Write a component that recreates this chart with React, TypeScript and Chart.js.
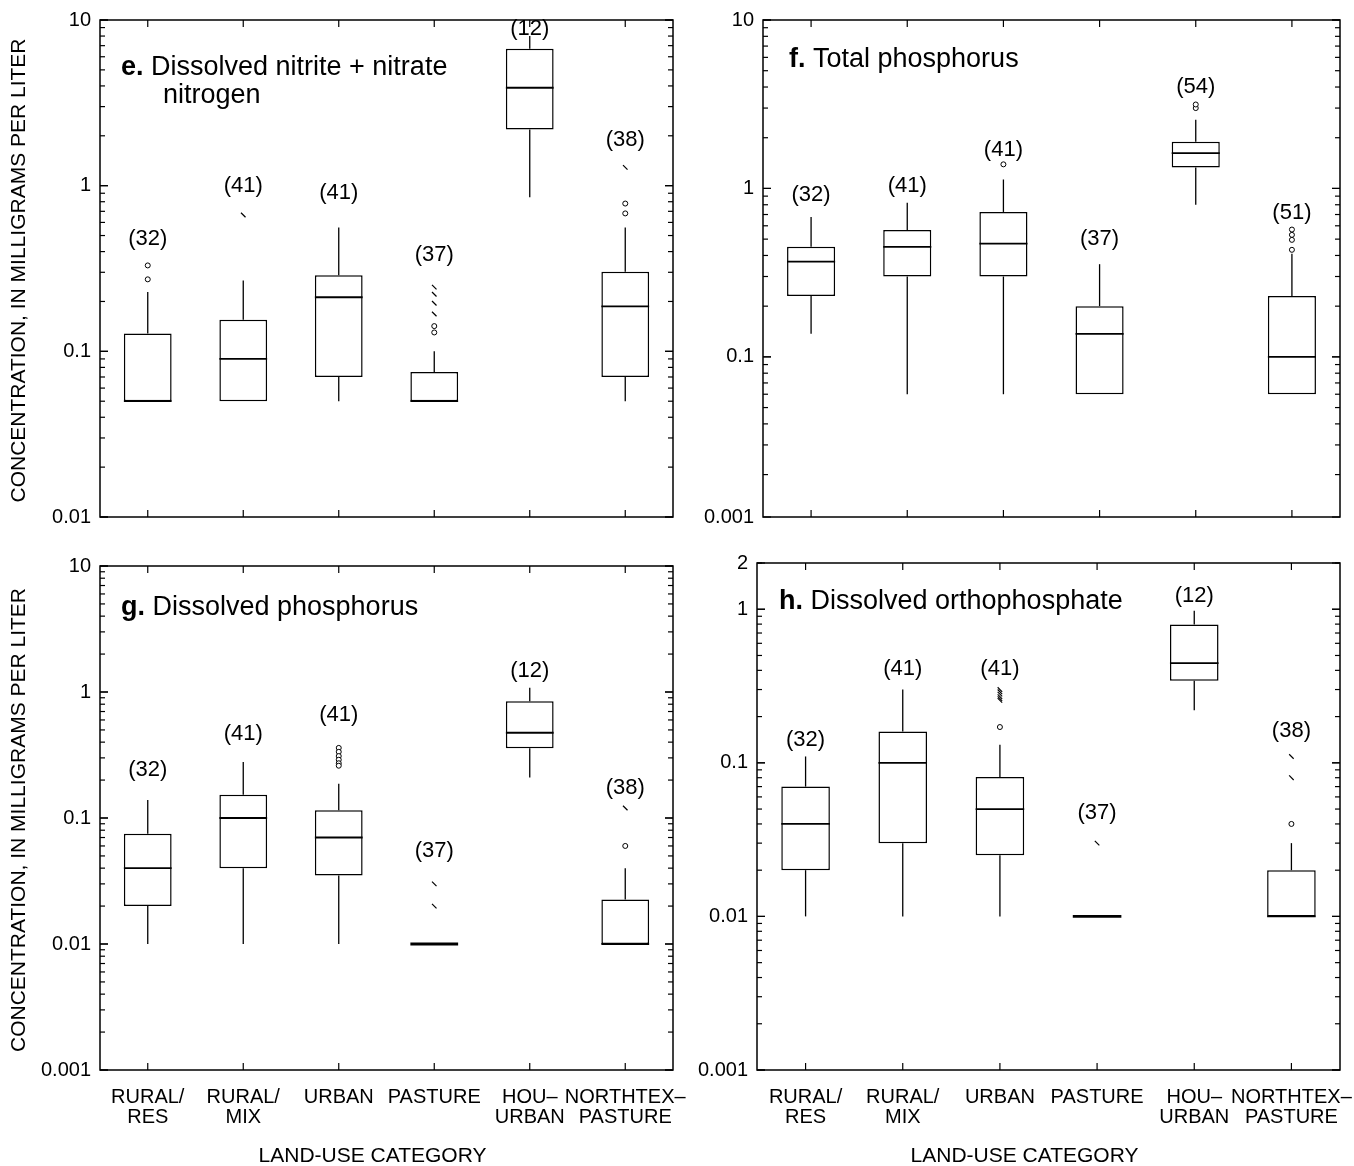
import React, { useEffect, useRef } from "react";
import { Chart, registerables } from "chart.js";

Chart.register(...registerables);

const FONT = "'Liberation Sans', Arial, Helvetica, sans-serif";

const CATEGORIES: any[] = [
  ["RURAL/", "RES"],
  ["RURAL/", "MIX"],
  "URBAN",
  "PASTURE",
  ["HOU–", "URBAN"],
  ["NORTHTEX–", "PASTURE"],
];

const Y_TITLE = "CONCENTRATION, IN MILLIGRAMS PER LITER";
const X_TITLE = "LAND-USE CATEGORY";

// ---------- Panel e: Dissolved nitrite + nitrate nitrogen ----------
const E_COUNTS = [32, 41, 41, 37, 12, 38];
const E_MIN = [0.05, 0.05, 0.05, 0.05, 0.85, 0.05];
const E_Q1 = [0.05, 0.05, 0.07, 0.05, 2.18, 0.07];
const E_MED = [0.05, 0.09, 0.212, 0.05, 3.9, 0.187];
const E_Q3 = [0.128, 0.155, 0.288, 0.075, 6.7, 0.302];
const E_MAX = [0.228, 0.268, 0.56, 0.1, 8.0, 0.56];
const E_CIRCLES = [[0.33, 0.272], [], [], [0.142, 0.13], [], [0.78, 0.68]];
const E_MARKS = [[], [0.665], [], [0.244, 0.221, 0.195, 0.168], [], [1.29]];
const E_COUNT_AT = [0.48, 1.0, 0.9, 0.38, 8.8, 1.9];
const E_TICK_VALUES = [0.01, 0.1, 1, 10];
const E_TICK_LABELS = ["0.01", "0.1", "1", "10"];

// ---------- Panel f: Total phosphorus ----------
const F_COUNTS = [32, 41, 41, 37, 54, 51];
const F_MIN = [0.137, 0.06, 0.06, 0.06, 0.8, 0.06];
const F_Q1 = [0.23, 0.3, 0.3, 0.06, 1.33, 0.06];
const F_MED = [0.368, 0.45, 0.47, 0.137, 1.62, 0.1];
const F_Q3 = [0.45, 0.567, 0.725, 0.2, 1.89, 0.23];
const F_MAX = [0.676, 0.823, 1.13, 0.355, 2.56, 0.41];
const F_CIRCLES = [[], [], [1.39], [], [3.0, 3.15], [0.57, 0.53, 0.495, 0.432]];
const F_MARKS = [[], [], [], [], [], []];
const F_COUNT_AT = [0.92, 1.04, 1.7, 0.5, 4.0, 0.72];
const F_TICK_VALUES = [0.0112, 0.1, 1, 10];
const F_TICK_LABELS = ["0.001", "0.1", "1", "10"];

// ---------- Panel g: Dissolved phosphorus ----------
const G_COUNTS = [32, 41, 41, 37, 12, 38];
const G_MIN = [0.01, 0.01, 0.01, 0.01, 0.21, 0.01];
const G_Q1 = [0.02, 0.04, 0.035, 0.01, 0.357, 0.01];
const G_MED = [0.04, 0.1, 0.07, 0.01, 0.475, 0.01];
const G_Q3 = [0.075, 0.153, 0.115, 0.01, 0.845, 0.0226];
const G_MAX = [0.139, 0.278, 0.187, 0.01, 1.08, 0.04];
const G_CIRCLES = [[], [], [0.36, 0.335, 0.31, 0.29, 0.272, 0.26], [], [], [0.06]];
const G_MARKS = [[], [], [], [0.03, 0.02], [], [0.12]];
const G_COUNT_AT = [0.24, 0.465, 0.657, 0.055, 1.46, 0.174];
const G_TICK_VALUES = [0.001, 0.01, 0.1, 1, 10];
const G_TICK_LABELS = ["0.001", "0.01", "0.1", "1", "10"];

// ---------- Panel h: Dissolved orthophosphate ----------
const H_COUNTS = [32, 41, 41, 37, 12, 38];
const H_MIN = [0.01, 0.01, 0.01, 0.01, 0.22, 0.01];
const H_Q1 = [0.02, 0.03, 0.025, 0.01, 0.342, 0.01];
const H_MED = [0.04, 0.1, 0.05, 0.01, 0.446, 0.01];
const H_Q3 = [0.07, 0.16, 0.081, 0.01, 0.795, 0.02];
const H_MAX = [0.11, 0.3, 0.131, 0.01, 0.977, 0.03];
const H_CIRCLES = [[], [], [0.171], [], [], [0.04]];
const H_MARKS = [[], [], [0.3, 0.29, 0.28, 0.27, 0.262, 0.255], [0.03], [], [0.11, 0.08]];
const H_COUNT_AT = [0.14, 0.408, 0.408, 0.047, 1.215, 0.162];
const H_TICK_VALUES = [0.001, 0.01, 0.1, 1, 2];
const H_TICK_LABELS = ["0.001", "0.01", "0.1", "1", "2"];

const PANELS = [
  {
    key: "e",
    d: {
      letter: "e.", title: [" Dissolved nitrite + nitrate", "nitrogen"],
      counts: E_COUNTS, min: E_MIN, q1: E_Q1, med: E_MED, q3: E_Q3, max: E_MAX,
      circles: E_CIRCLES, marks: E_MARKS, countAt: E_COUNT_AT,
      tickValues: E_TICK_VALUES, tickLabels: E_TICK_LABELS,
      yMin: 0.01, yMax: 10,
    },
    L: {
      left: 0, top: 0, width: 700, height: 545,
      area: { left: 100, top: 20, right: 673, bottom: 517 },
      showX: false, showYTitle: true,
      titleDx: 21, titleDy: 55, line2Dx: 63, line2Dy: 83, xTitleDx: 0,
    },
  },
  {
    key: "f",
    d: {
      letter: "f.", title: [" Total phosphorus"],
      counts: F_COUNTS, min: F_MIN, q1: F_Q1, med: F_MED, q3: F_Q3, max: F_MAX,
      circles: F_CIRCLES, marks: F_MARKS, countAt: F_COUNT_AT,
      tickValues: F_TICK_VALUES, tickLabels: F_TICK_LABELS,
      yMin: 0.0112, yMax: 10,
    },
    L: {
      left: 680, top: 0, width: 674, height: 545,
      area: { left: 83, top: 20, right: 660, bottom: 517 },
      showX: false, showYTitle: false,
      titleDx: 26, titleDy: 47, line2Dx: 0, line2Dy: 0, xTitleDx: 0,
    },
  },
  {
    key: "g",
    d: {
      letter: "g.", title: [" Dissolved phosphorus"],
      counts: G_COUNTS, min: G_MIN, q1: G_Q1, med: G_MED, q3: G_Q3, max: G_MAX,
      circles: G_CIRCLES, marks: G_MARKS, countAt: G_COUNT_AT,
      tickValues: G_TICK_VALUES, tickLabels: G_TICK_LABELS,
      yMin: 0.001, yMax: 10,
    },
    L: {
      left: 0, top: 545, width: 700, height: 621,
      area: { left: 100, top: 21, right: 673, bottom: 525 },
      showX: true, showYTitle: true,
      titleDx: 21, titleDy: 49, line2Dx: 0, line2Dy: 0, xTitleDx: -14,
    },
  },
  {
    key: "h",
    d: {
      letter: "h.", title: [" Dissolved orthophosphate"],
      counts: H_COUNTS, min: H_MIN, q1: H_Q1, med: H_MED, q3: H_Q3, max: H_MAX,
      circles: H_CIRCLES, marks: H_MARKS, countAt: H_COUNT_AT,
      tickValues: H_TICK_VALUES, tickLabels: H_TICK_LABELS,
      yMin: 0.001, yMax: 2,
    },
    L: {
      left: 680, top: 545, width: 674, height: 621,
      area: { left: 77, top: 18, right: 660, bottom: 525 },
      showX: true, showYTitle: false,
      titleDx: 22, titleDy: 46, line2Dx: 0, line2Dy: 0, xTitleDx: -24,
    },
  },
];

function boxPlotPlugin(d: any, L: any) {
  return {
    id: "boxExtras" + d.letter,
    afterDatasetsDraw(chart: any) {
      const ctx = chart.ctx;
      const xs = chart.scales.x;
      const ys = chart.scales.y;
      const ca = chart.chartArea;
      const meta = chart.getDatasetMeta(0);
      const line = (x1: number, y1: number, x2: number, y2: number) => {
        ctx.beginPath();
        ctx.moveTo(x1, y1);
        ctx.lineTo(x2, y2);
        ctx.stroke();
      };
      ctx.save();
      ctx.strokeStyle = "#000";
      ctx.fillStyle = "#000";
      ctx.lineCap = "butt";

      // whiskers and medians
      d.counts.forEach((_n: number, i: number) => {
        const x = xs.getPixelForValue(i);
        const bw = meta.data[i] ? meta.data[i].width : 40;
        ctx.lineWidth = 1.3;
        if (d.max[i] > d.q3[i]) line(x, ys.getPixelForValue(d.q3[i]), x, ys.getPixelForValue(d.max[i]));
        if (d.min[i] < d.q1[i]) line(x, ys.getPixelForValue(d.q1[i]), x, ys.getPixelForValue(d.min[i]));
        ctx.lineWidth = d.q1[i] === d.q3[i] ? 2.8 : 1.8;
        const ym = ys.getPixelForValue(d.med[i]);
        line(x - bw / 2, ym, x + bw / 2, ym);
      });

      // frame
      ctx.lineWidth = 1.5;
      ctx.strokeRect(ca.left, ca.top, ca.right - ca.left, ca.bottom - ca.top);

      // y ticks (inward, both sides)
      ctx.lineWidth = 1.2;
      const kLo = Math.floor(Math.log10(d.yMin));
      const kHi = Math.ceil(Math.log10(d.yMax));
      for (let k = kLo; k <= kHi; k++) {
        for (let m = 1; m <= 9; m++) {
          const v = m * Math.pow(10, k);
          if (v < d.yMin * 0.999 || v > d.yMax * 1.001) continue;
          const y = ys.getPixelForValue(v);
          const len = m === 1 ? 8 : 5;
          line(ca.left, y, ca.left + len, y);
          line(ca.right, y, ca.right - len, y);
        }
      }
      d.tickValues.forEach((v: number) => {
        const y = ys.getPixelForValue(v);
        line(ca.left, y, ca.left + 8, y);
        line(ca.right, y, ca.right - 8, y);
      });

      // x ticks (inward, top and bottom)
      d.counts.forEach((_n: number, i: number) => {
        const x = xs.getPixelForValue(i);
        line(x, ca.bottom, x, ca.bottom - 7);
        line(x, ca.top, x, ca.top + 7);
      });

      // sample counts
      ctx.font = `22px ${FONT}`;
      ctx.textAlign = "center";
      ctx.textBaseline = "middle";
      d.counts.forEach((n: number, i: number) => {
        ctx.fillText(`(${n})`, xs.getPixelForValue(i), ys.getPixelForValue(d.countAt[i]));
      });

      // panel title
      ctx.textAlign = "left";
      ctx.textBaseline = "alphabetic";
      const tx = ca.left + L.titleDx;
      const ty = ca.top + L.titleDy;
      ctx.font = `bold 27px ${FONT}`;
      ctx.fillText(d.letter, tx, ty);
      const bwid = ctx.measureText(d.letter).width;
      ctx.font = `27px ${FONT}`;
      ctx.fillText(d.title[0], tx + bwid, ty);
      if (d.title.length > 1) {
        ctx.fillText(d.title[1], ca.left + L.line2Dx, ca.top + L.line2Dy);
      }

      // axis titles
      ctx.font = `21px ${FONT}`;
      if (L.showYTitle) {
        ctx.save();
        ctx.translate(19, (ca.top + ca.bottom) / 2 + 2);
        ctx.rotate(-Math.PI / 2);
        ctx.textAlign = "center";
        ctx.textBaseline = "middle";
        ctx.fillText(Y_TITLE, 0, 0);
        ctx.restore();
      }
      if (L.showX) {
        ctx.font = `21px ${FONT}`;
        ctx.textAlign = "center";
        ctx.textBaseline = "middle";
        ctx.fillText(X_TITLE, (ca.left + ca.right) / 2 + L.xTitleDx, L.height - 10);
      }
      ctx.restore();
    },
  };
}

function makeChart(canvas: HTMLCanvasElement, d: any, L: any) {
  const boxes = d.q1.map((q: number, i: number) => [q, d.q3[i]]);
  const circles = d.circles.flatMap((arr: number[], i: number) => arr.map((v) => ({ x: i, y: v })));
  const marks = d.marks.flatMap((arr: number[], i: number) => arr.map((v) => ({ x: i, y: v })));
  return new Chart(canvas, {
    type: "bar",
    data: {
      labels: CATEGORIES,
      datasets: [
        {
          type: "bar",
          data: boxes,
          backgroundColor: "#ffffff",
          borderColor: "#000000",
          borderWidth: 1.5,
          borderSkipped: false,
          barPercentage: 0.5,
          categoryPercentage: 1,
          order: 3,
        } as any,
        {
          type: "scatter",
          data: circles,
          parsing: false,
          showLine: false,
          pointStyle: "circle",
          pointRadius: 2.5,
          pointBorderWidth: 1,
          pointBorderColor: "#000",
          pointBackgroundColor: "#fff",
          order: 2,
        } as any,
        {
          type: "scatter",
          data: marks,
          parsing: false,
          showLine: false,
          pointStyle: "line",
          pointRotation: 45,
          pointRadius: 3.2,
          pointBorderWidth: 1.2,
          pointBorderColor: "#000",
          pointBackgroundColor: "#000",
          order: 1,
        } as any,
      ],
    },
    options: {
      responsive: false,
      animation: false,
      devicePixelRatio: 1,
      events: [],
      layout: { padding: { top: L.area.top, right: L.width - L.area.right, left: 0, bottom: 0 } },
      plugins: { legend: { display: false }, tooltip: { enabled: false }, title: { display: false } },
      scales: {
        x: {
          type: "category",
          offset: true,
          grid: { display: false, drawTicks: false, tickLength: 0 },
          border: { display: false },
          ticks: {
            display: L.showX,
            autoSkip: false,
            maxRotation: 0,
            minRotation: 0,
            padding: 17,
            color: "#000",
            font: { family: FONT, size: 20, lineHeight: 1 },
          },
          afterFit: (s: any) => {
            s.height = L.height - L.area.bottom;
            s.paddingLeft = 0;
            s.paddingRight = 0;
          },
        },
        y: {
          type: "logarithmic",
          min: d.yMin,
          max: d.yMax,
          grid: { display: false, drawTicks: false, tickLength: 0 },
          border: { display: false },
          afterBuildTicks: (s: any) => {
            s.ticks = d.tickValues.map((v: number) => ({ value: v }));
          },
          ticks: {
            color: "#000",
            padding: 9,
            font: { family: FONT, size: 20 },
            callback: (_v: any, i: number) => d.tickLabels[i] ?? "",
          },
          afterFit: (s: any) => {
            s.width = L.area.left;
            s.paddingTop = 0;
            s.paddingBottom = 0;
          },
        },
      },
    } as any,
    plugins: [boxPlotPlugin(d, L)],
  } as any);
}

function Panel({ d, L }: { d: any; L: any }) {
  const ref = useRef<HTMLCanvasElement>(null);
  useEffect(() => {
    if (!ref.current) return;
    const chart = makeChart(ref.current, d, L);
    return () => chart.destroy();
  }, []);
  return (
    <div style={{ position: "absolute", left: L.left, top: L.top, width: L.width, height: L.height }}>
      <canvas ref={ref} width={L.width} height={L.height} style={{ width: L.width, height: L.height, display: "block" }} />
    </div>
  );
}

export default function App() {
  return (
    <div style={{ position: "absolute", left: 0, top: 0, width: 1354, height: 1166, background: "#fff", overflow: "hidden" }}>
      {PANELS.map((p) => (
        <Panel key={p.key} d={p.d} L={p.L} />
      ))}
    </div>
  );
}
